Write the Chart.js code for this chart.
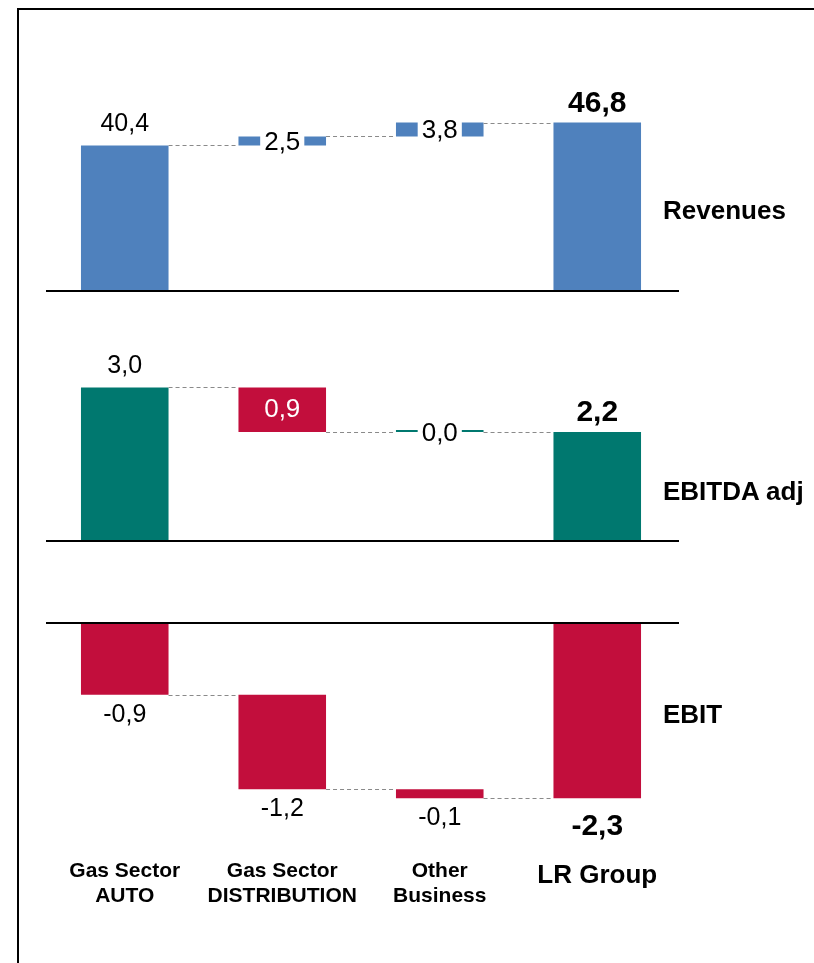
<!DOCTYPE html>
<html>
<head>
<meta charset="utf-8">
<script src="https://cdn.jsdelivr.net/npm/chart.js@4.4.1/dist/chart.umd.min.js"></script>
<style>
    body { margin: 0; background: #fff; }
    #page { position: relative; width: 814px; height: 963px; overflow: hidden; }
    #frame { position: absolute; left: 17px; top: 8px; width: 900px; height: 1000px;
             border-left: 2px solid #000; border-top: 2px solid #000; }
    canvas { position: absolute; left: 0; top: 0; }
    .title { position: absolute; left: 663px; white-space: nowrap; line-height: 26px;
             font: bold 26px "Liberation Sans", Arial, sans-serif; color: #000; }
</style>
</head>
<body>
<div id="page">
    <div id="frame"></div>
    <canvas id="rev" width="814" height="963"></canvas>
    <canvas id="ebitda" width="814" height="963"></canvas>
    <canvas id="ebit" width="814" height="963"></canvas>
</div>
<script>
// values (labels are rounded to one decimal)
var categories = [['Gas Sector', 'AUTO'], ['Gas Sector', 'DISTRIBUTION'], ['Other', 'Business'], 'LR Group'];
var panelTitles = ['Revenues', 'EBITDA adj', 'EBIT'];

var revenueSteps = [40.43, 2.52, 3.83];
var revenueTotal = 46.78;

var ebitdaSteps = [3.04, -0.88, 0.0];
var ebitdaTotal = 2.16;

var ebitSteps = [-0.94, -1.24, -0.12];
var ebitTotal = -2.30;

var FONT = '"Liberation Sans", Arial, sans-serif';
var BLUE = '#4f81bd', TEAL = '#00786f', RED = '#c20e3c';

function fmt(v) {
    return (Math.round(v * 10) / 10).toFixed(1).replace('.', ',');
}

// floating bars: each step starts where the previous one ended, total from zero
function buildBars(steps, total) {
    var bars = [], run = 0;
    steps.forEach(function(s) {
        bars.push([run, run + s]);
        run += s;
    });
    bars.push([0, total]);
    return bars;
}

var waterfallPlugin = {
    id: 'waterfall',
    afterDatasetsDraw: function(chart) {
        var cfg = chart.options.plugins.waterfall;
        var ctx = chart.ctx, area = chart.chartArea, y = chart.scales.y;
        var meta = chart.getDatasetMeta(0);
        var bars = chart.data.datasets[0].data;
        ctx.save();

        // zero line
        var y0 = Math.round(y.getPixelForValue(0));
        ctx.strokeStyle = '#000';
        ctx.lineWidth = 2;
        ctx.beginPath();
        ctx.moveTo(area.left, y0);
        ctx.lineTo(area.right + 3, y0);
        ctx.stroke();

        // dashed connectors between bars
        ctx.strokeStyle = '#8a8a8a';
        ctx.lineWidth = 1.2;
        ctx.setLineDash([4, 3]);
        for (var i = 0; i < bars.length - 1; i++) {
            var a = meta.data[i], b = meta.data[i + 1];
            var ly = Math.round(y.getPixelForValue(bars[i][1])) + 0.5;
            ctx.beginPath();
            ctx.moveTo(a.x + a.width / 2, ly);
            ctx.lineTo(b.x - b.width / 2, ly);
            ctx.stroke();
        }
        ctx.setLineDash([]);

        // value labels
        ctx.textAlign = 'center';
        ctx.textBaseline = 'alphabetic';
        for (var j = 0; j < bars.length; j++) {
            var el = meta.data[j];
            var isTotal = j === bars.length - 1;
            var val = bars[j][1] - bars[j][0];
            var p1 = y.getPixelForValue(bars[j][0]), p2 = y.getPixelForValue(bars[j][1]);
            var top = Math.min(p1, p2), bottom = Math.max(p1, p2), mid = (top + bottom) / 2;
            var pos = cfg.pos[j];
            var text = fmt(pos === 'inside' ? Math.abs(val) : val);
            if (isTotal) ctx.font = 'bold 30px ' + FONT;
            else if (pos === 'box' || pos === 'inside') ctx.font = '26px ' + FONT;
            else ctx.font = '25px ' + FONT;
            ctx.fillStyle = '#000';
            if (pos === 'above') {
                ctx.fillText(text, el.x, top - (isTotal ? 11 : 14));
            } else if (pos === 'below') {
                ctx.fillText(text, el.x, bottom + (isTotal ? 37 : 27));
            } else if (pos === 'box') {
                var w = ctx.measureText(text).width;
                ctx.fillStyle = '#fff';
                ctx.fillRect(el.x - w / 2 - 4, mid - 13, w + 8, 26);
                ctx.fillStyle = '#000';
                ctx.fillText(text, el.x, mid + 9);
            } else if (pos === 'inside') {
                ctx.fillStyle = '#fff';
                ctx.fillText(text, el.x, mid + 7);
            }
        }
        ctx.restore();
    }
};

function makeWaterfall(id, steps, total, color, yMin, yMax, pad, pos, showAxis) {
    var bars = buildBars(steps, total);
    var colors = bars.map(function(b) { return b[1] - b[0] < 0 ? RED : color; });
    return new Chart(document.getElementById(id), {
        type: 'bar',
        data: {
            labels: categories,
            datasets: [{
                data: bars,
                backgroundColor: colors,
                borderWidth: 0,
                minBarLength: 2,
                barPercentage: 0.556,
                categoryPercentage: 1.0
            }]
        },
        options: {
            responsive: false,
            animation: false,
            devicePixelRatio: 1,
            events: [],
            layout: { padding: pad },
            plugins: {
                legend: { display: false },
                tooltip: { enabled: false },
                waterfall: { pos: pos }
            },
            scales: {
                x: {
                    display: showAxis,
                    grid: { display: false, drawTicks: false },
                    border: { display: false },
                    afterFit: function(axis) { if (showAxis) axis.height = 119; },
                    ticks: {
                        color: '#000',
                        padding: 15,
                        maxRotation: 0,
                        autoSkip: false,
                        font: function(c) {
                            return c.index === 3
                                ? { family: FONT, size: 26, weight: 'bold', lineHeight: 1.27 }
                                : { family: FONT, size: 21, weight: 'bold', lineHeight: 1.19 };
                        }
                    }
                },
                y: { display: false, min: yMin, max: yMax }
            }
        },
        plugins: [waterfallPlugin]
    });
}

makeWaterfall('rev', revenueSteps, revenueTotal, BLUE, 0, 70,
    { left: 46, right: 138, top: 39, bottom: 672 }, ['above', 'box', 'box', 'above'], false);
makeWaterfall('ebitda', ebitdaSteps, ebitdaTotal, TEAL, 0, 4,
    { left: 46, right: 138, top: 339, bottom: 422 }, ['above', 'inside', 'box', 'above'], false);
makeWaterfall('ebit', ebitSteps, ebitTotal, TEAL, -2.9, 0,
    { left: 46, right: 138, top: 623, bottom: 0 }, ['below', 'below', 'below', 'below'], true);

// panel names on the right
var titleTops = [195, 476, 699];
panelTitles.forEach(function(t, i) {
    var d = document.createElement('div');
    d.className = 'title';
    d.style.top = titleTops[i] + 'px';
    d.textContent = t;
    document.getElementById('page').appendChild(d);
});
</script>
</body>
</html>
